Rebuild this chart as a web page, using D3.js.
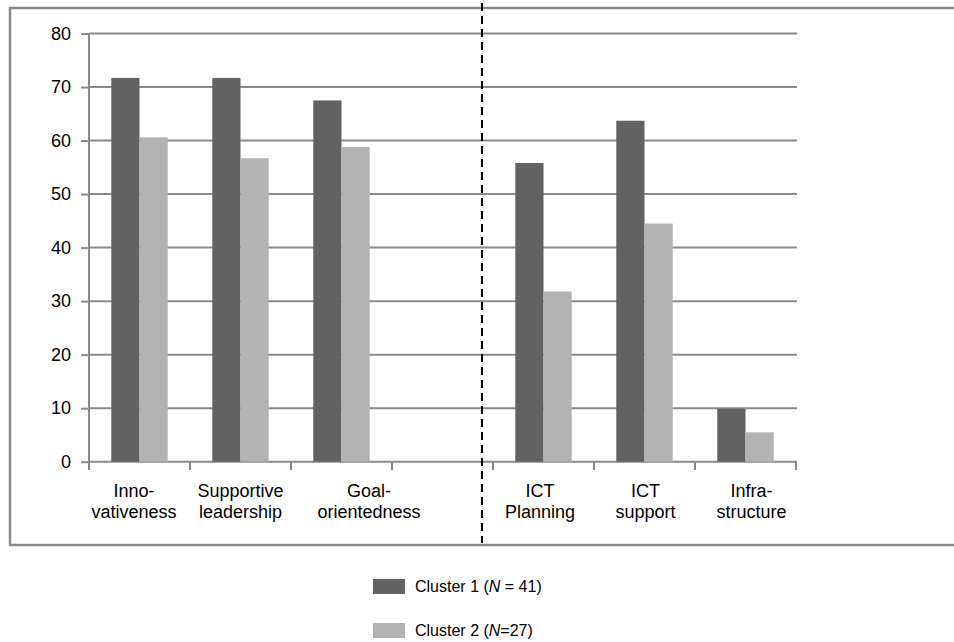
<!DOCTYPE html>
<html>
<head>
<meta charset="utf-8">
<script src="https://cdn.jsdelivr.net/npm/d3@7"></script>
<style>
  html, body { margin: 0; padding: 0; background: #fff; }
  svg { display: block; font-family: "Liberation Sans", Arial, sans-serif; }
</style>
</head>
<body>
<svg id="chart" width="954" height="642"></svg>
<script>
// Categories (the fourth slot is an empty spacer between the two groups of scales)
const categories = ["Innovativeness", "Supportive leadership", "Goal-orientedness", "gap", "ICT Planning", "ICT support", "Infrastructure"];
const categoryLines = [["Inno-", "vativeness"], ["Supportive", "leadership"], ["Goal-", "orientedness"], [], ["ICT", "Planning"], ["ICT", "support"], ["Infra-", "structure"]];
const seriesNames = ["Cluster 1", "Cluster 2"];
const cluster1 = [71.7, 71.7, 67.5, null, 55.8, 63.7, 9.9];
const cluster2 = [60.6, 56.7, 58.8, null, 31.8, 44.5, 5.5];
const yTicks = [0, 10, 20, 30, 40, 50, 60, 70, 80];

const colors = { "Cluster 1": "#626262", "Cluster 2": "#b3b3b3" };
const gridColor = "#8a8a8a";
// horizontal nudges of the wrapped category labels
const labelNudge = [-5.5, 0, 27.5, 0, -3.5, 1, 6];

const svg = d3.select("#chart");

// outer frame (runs off the right edge)
svg.append("rect")
  .attr("x", 10).attr("y", 8)
  .attr("width", 960).attr("height", 537)
  .attr("fill", "none").attr("stroke", gridColor).attr("stroke-width", 2.5);

const x0 = d3.scaleBand().domain(categories).range([89, 796]).paddingInner(0).paddingOuter(0);
const x1 = d3.scaleBand().domain(seriesNames).range([0, x0.bandwidth()]).paddingInner(0).paddingOuter(0.79);
const y = d3.scaleLinear().domain([0, 80]).range([461.7, 33.5]);

// gridlines + y axis
const yAxis = d3.axisLeft(y).tickValues(yTicks).tickSize(8).tickPadding(10);
const gy = svg.append("g").attr("transform", "translate(89,0)").call(yAxis);
gy.select(".domain").remove();
gy.selectAll(".tick line").attr("stroke", gridColor).attr("stroke-width", 2);
gy.selectAll(".tick text").attr("font-size", 18).attr("fill", "#000")
  .attr("font-family", "'Liberation Sans', Arial, sans-serif");

svg.append("g").selectAll("line").data(yTicks).join("line")
  .attr("x1", 89).attr("x2", 797)
  .attr("y1", d => y(d)).attr("y2", d => y(d))
  .attr("stroke", gridColor).attr("stroke-width", 2);

svg.append("line")
  .attr("x1", 89).attr("x2", 89).attr("y1", y(80)).attr("y2", 470)
  .attr("stroke", gridColor).attr("stroke-width", 2);

// category boundary ticks on the x axis
const boundaries = categories.map(c => x0(c)).concat([x0(categories[categories.length - 1]) + x0.bandwidth()]);
svg.append("g").selectAll("line").data(boundaries.slice(1)).join("line")
  .attr("x1", d => d).attr("x2", d => d)
  .attr("y1", y(0)).attr("y2", 470)
  .attr("stroke", gridColor).attr("stroke-width", 2);

// bars
const rows = categories.map((c, i) => ({ cat: c, vals: [
  { s: "Cluster 1", v: cluster1[i] },
  { s: "Cluster 2", v: cluster2[i] }
].filter(d => d.v != null) }));

svg.append("g").selectAll("g").data(rows).join("g")
  .attr("transform", d => `translate(${x0(d.cat)},0)`)
  .selectAll("rect").data(d => d.vals).join("rect")
  .attr("x", d => x1(d.s))
  .attr("width", x1.bandwidth())
  .attr("y", d => y(d.v))
  .attr("height", d => y(0) - y(d.v))
  .attr("fill", d => colors[d.s]);

// category labels
const lab = svg.append("g").attr("font-size", 18).attr("fill", "#000").attr("text-anchor", "middle");
categories.forEach((c, i) => {
  const cx = x0(c) + x0.bandwidth() / 2 + labelNudge[i];
  categoryLines[i].forEach((t, k) => {
    lab.append("text").attr("x", cx).attr("y", 496.5 + k * 21).text(t);
  });
});

// dashed divider between the two groups
const divX = (x0("gap") + x0("ICT Planning")) / 2 + x0.bandwidth() / 2 - 11;
svg.append("line")
  .attr("x1", divX).attr("x2", divX).attr("y1", 3).attr("y2", 543)
  .attr("stroke", "#000").attr("stroke-width", 2).attr("stroke-dasharray", "8,5");

// legend
const legendItems = [
  { s: "Cluster 1", pre: "Cluster 1 (", n: "N", post: " = 41)" },
  { s: "Cluster 2", pre: "Cluster 2 (", n: "N", post: "=27)" }
];
const lg = svg.append("g");
legendItems.forEach((d, i) => {
  const yy = 579 + i * 44;
  lg.append("rect").attr("x", 373).attr("y", yy).attr("width", 32).attr("height", 15).attr("fill", colors[d.s]);
  const t = lg.append("text").attr("x", 415).attr("y", yy + 13).attr("font-size", 16).attr("fill", "#000");
  t.append("tspan").text(d.pre);
  t.append("tspan").attr("font-style", "italic").text(d.n);
  t.append("tspan").text(d.post);
});
</script>
</body>
</html>
